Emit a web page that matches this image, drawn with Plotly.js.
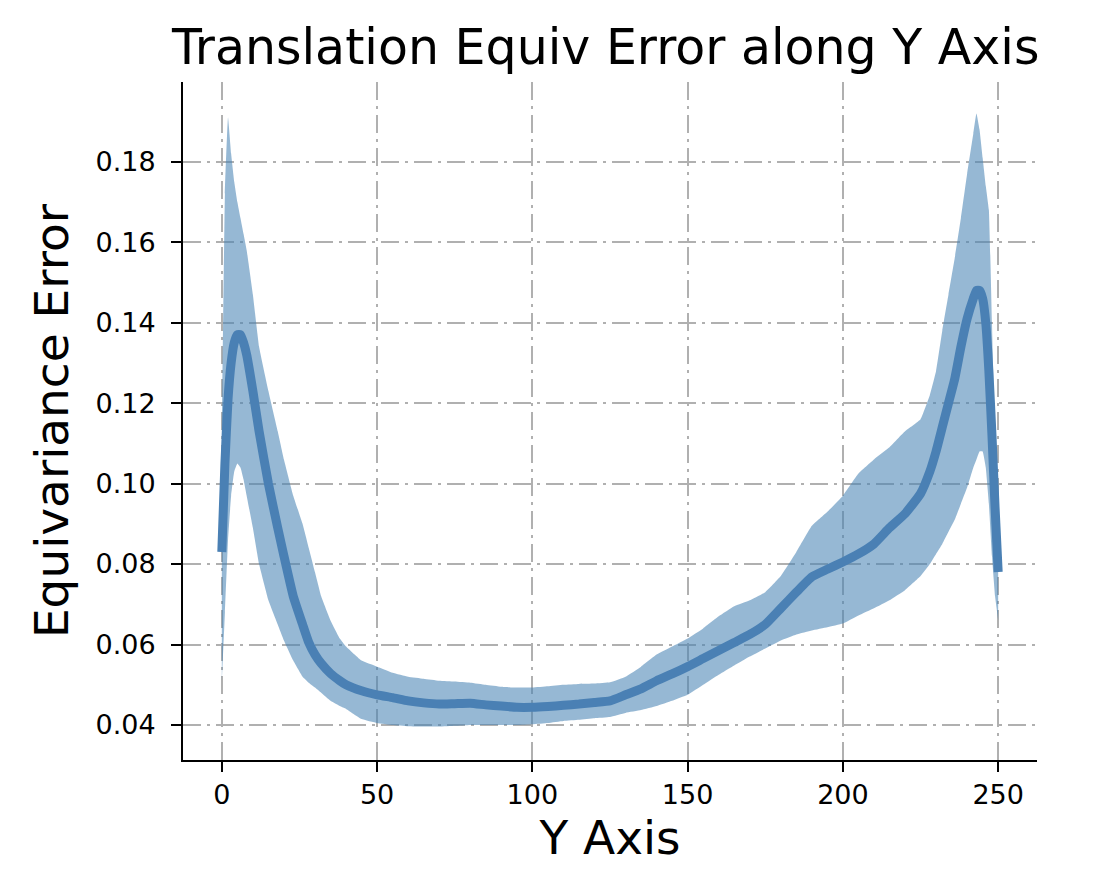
<!DOCTYPE html>
<html>
<head>
<meta charset="utf-8">
<script src="https://cdn.plot.ly/plotly-3.0.1.min.js"></script>
<style>html,body{margin:0;padding:0;background:#fff;}#chart{width:1118px;height:876px;}</style>
</head>
<body>
<div id="chart"></div>
<script>
// Y position (pixel row along Y axis)
const positions = [0,1,2,3,4,5,6,7,8,10,12,15,18,20,23,26,28,30,32,35,38,40,45,50,55,60,65,70,75,80,85,90,95,100,105,110,115,120,125,130,135,140,145,150,155,160,165,170,175,180,185,190,195,200,205,210,215,220,225,228,230,232,234,236,238,240,242,243,244,245,246,247,248,249,250];
// mean equivariance error
const meanError = [0.083,0.105,0.121,0.130,0.135,0.137,0.137,0.135,0.132,0.123,0.113,0.100,0.089,0.082,0.072,0.065,0.0605,0.0575,0.0553,0.0528,0.051,0.050,0.0485,0.0475,0.0468,0.046,0.0455,0.0452,0.0453,0.0454,0.045,0.0447,0.0444,0.0444,0.0446,0.0449,0.0452,0.0456,0.046,0.0475,0.049,0.051,0.0527,0.0545,0.0565,0.0585,0.0605,0.0625,0.065,0.069,0.073,0.0768,0.0787,0.0805,0.0825,0.085,0.089,0.0925,0.0975,0.103,0.108,0.114,0.120,0.126,0.134,0.141,0.146,0.148,0.148,0.146,0.140,0.128,0.112,0.094,0.078];
// mean + std
const upperError = [0.115,0.172,0.191,0.182,0.175,0.170,0.166,0.162,0.158,0.147,0.134,0.123,0.113,0.106,0.097,0.090,0.084,0.078,0.072,0.066,0.0615,0.0595,0.056,0.0545,0.053,0.052,0.0515,0.051,0.0508,0.0505,0.050,0.0495,0.0493,0.0493,0.0496,0.050,0.0502,0.0503,0.0506,0.052,0.0545,0.0575,0.0595,0.0615,0.064,0.067,0.0695,0.071,0.073,0.077,0.083,0.0895,0.093,0.097,0.1025,0.106,0.109,0.113,0.116,0.122,0.128,0.138,0.147,0.156,0.166,0.177,0.187,0.192,0.188,0.181,0.174,0.168,0.140,0.110,0.090];
// mean - std
const lowerError = [0.051,0.068,0.086,0.097,0.103,0.105,0.104,0.101,0.097,0.089,0.080,0.071,0.065,0.061,0.056,0.052,0.0505,0.0493,0.048,0.046,0.0447,0.044,0.0415,0.0405,0.040,0.0397,0.0396,0.0396,0.0398,0.040,0.040,0.040,0.040,0.0402,0.0405,0.041,0.0413,0.0417,0.042,0.043,0.0437,0.0447,0.046,0.0475,0.050,0.0525,0.0548,0.057,0.059,0.061,0.0625,0.0635,0.0643,0.0652,0.0672,0.069,0.071,0.0735,0.077,0.080,0.0825,0.085,0.088,0.091,0.095,0.099,0.104,0.106,0.108,0.108,0.104,0.095,0.082,0.072,0.066];
const xTicks = [0,50,100,150,200,250];
const yTicks = [0.04,0.06,0.08,0.10,0.12,0.14,0.16,0.18];
const yTickText = ['0.04','0.06','0.08','0.10','0.12','0.14','0.16','0.18'];

const font = 'DejaVu Sans, sans-serif';
const traces = [
  {x: positions, y: lowerError, mode: 'lines', line: {width: 0, color: 'rgba(0,0,0,0)', shape: 'spline', smoothing: 0.3}, showlegend: false, hoverinfo: 'skip'},
  {x: positions, y: upperError, mode: 'lines', line: {width: 0, color: 'rgba(0,0,0,0)', shape: 'spline', smoothing: 0.3}, fill: 'tonexty', fillcolor: 'rgba(70,130,180,0.57)', showlegend: false, hoverinfo: 'skip'},
  {x: positions, y: meanError, mode: 'lines', line: {width: 9, color: '#4a80b4', shape: 'spline', smoothing: 0.4}, showlegend: false}
];
const axisCommon = {
  showline: true, linecolor: '#000', linewidth: 2, mirror: false,
  ticks: 'outside', ticklen: 10, tickwidth: 2, tickcolor: '#000',
  showgrid: true, gridcolor: '#b0b0b0', gridwidth: 2, griddash: '18px,6px,3px,6px',
  zeroline: false, tickfont: {family: font, size: 27, color: '#000'}
};
const layout = {
  width: 1118, height: 876,
  margin: {l: 183, r: 81, t: 82, b: 116},
  paper_bgcolor: '#fff', plot_bgcolor: '#fff',
  title: {text: 'Translation Equiv Error along Y Axis', font: {family: font, size: 49, color: '#000'}, x: 0.495, xref: 'paper', y: 1, yref: 'paper', yanchor: 'bottom', pad: {b: 18}},
  xaxis: Object.assign({}, axisCommon, {range: [-12.5, 262.5], tickvals: xTicks, ticktext: xTicks.map(String), title: {text: 'Y Axis', font: {family: font, size: 47, color: '#000'}, standoff: 12}}),
  yaxis: Object.assign({}, axisCommon, {range: [0.0313, 0.1998], tickvals: yTicks, ticktext: yTickText, ticklabelstandoff: 10, title: {text: 'Equivariance Error', font: {family: font, size: 47, color: '#000'}, standoff: 12}})
};
Plotly.newPlot('chart', traces, layout, {displayModeBar: false, staticPlot: true});
</script>
</body>
</html>
